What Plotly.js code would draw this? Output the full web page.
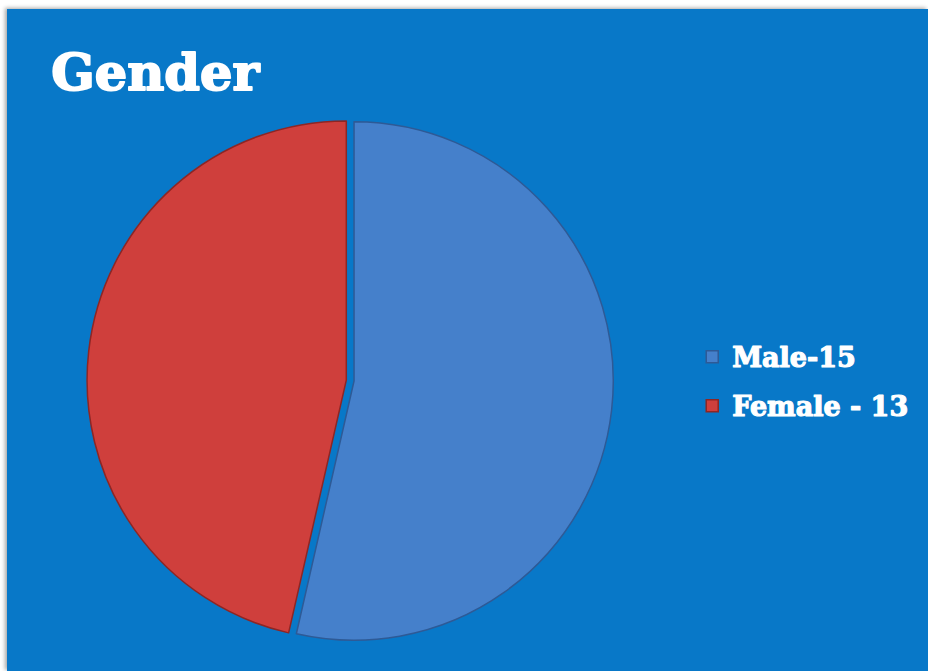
<!DOCTYPE html>
<html>
<head>
<meta charset="utf-8">
<script src="https://cdn.plot.ly/plotly-3.0.1.min.js"></script>
<style>
  html, body { margin: 0; padding: 0; background: #ffffff; width: 928px; height: 671px; overflow: hidden; }
  #chart { position: absolute; left: 7px; top: 9px; width: 921px; height: 662px;
           box-shadow: -2px -1px 4px rgba(0,0,0,0.35); }
  #chart .gtitle { stroke: #ffffff; stroke-width: 2px; stroke-linejoin: round; }
  #chart .legendtext { stroke: #ffffff; stroke-width: 1.2px; stroke-linejoin: round; }
</style>
</head>
<body>
<div id="chart"></div>
<script>
const categories = ["Male-15", "Female - 13"];
const values = [15, 13];
const sliceColors = ["#4580CB", "#CF3F3C"];
const sliceEdges = ["#2E5A96", "#8E2624"];
const pulls = [0, 0.03];

const trace = {
  type: "pie",
  labels: categories,
  values: values,
  sort: false,
  direction: "clockwise",
  rotation: 0,
  pull: pulls,
  textinfo: "none",
  hoverinfo: "label+value",
  marker: { colors: sliceColors, line: { color: sliceEdges, width: 1.5 } },
  domain: { x: [0.0869, 0.6667], y: [0.0347, 0.8414] }
};

const layout = {
  width: 921,
  height: 662,
  margin: { l: 0, r: 0, t: 0, b: 0 },
  paper_bgcolor: "#0878C8",
  title: {
    text: "Gender",
    font: { family: "DejaVu Serif", size: 51, color: "#ffffff", weight: "bold" },
    x: 0.048, xanchor: "left", xref: "paper",
    y: 0.904, yanchor: "middle", yref: "paper"
  },
  showlegend: true,
  legend: {
    x: 0.744, xanchor: "left",
    y: 0.437, yanchor: "middle",
    bgcolor: "rgba(0,0,0,0)",
    font: { family: "DejaVu Serif", size: 27, color: "#ffffff", weight: "bold" },
    itemwidth: 30
  }
};

Plotly.newPlot("chart", [trace], layout, { displayModeBar: false, staticPlot: true }).then(function () {
  // widen spacing between legend entries to match the reference
  const items = Array.from(document.querySelectorAll("#chart .legend .traces"));
  if (items.length < 2) return;
  const ys = items.map(function (el) {
    const m = /translate\(\s*([-\d.]+)[ ,]+([-\d.]+)/.exec(el.getAttribute("transform") || "");
    return m ? [parseFloat(m[1]), parseFloat(m[2])] : [0, 0];
  });
  const gap = 49;
  const mid = (ys[0][1] + ys[ys.length - 1][1]) / 2;
  const start = mid - gap * (ys.length - 1) / 2;
  items.forEach(function (el, i) {
    el.setAttribute("transform", "translate(" + ys[i][0] + "," + (start + i * gap) + ")");
  });
});
</script>
</body>
</html>
